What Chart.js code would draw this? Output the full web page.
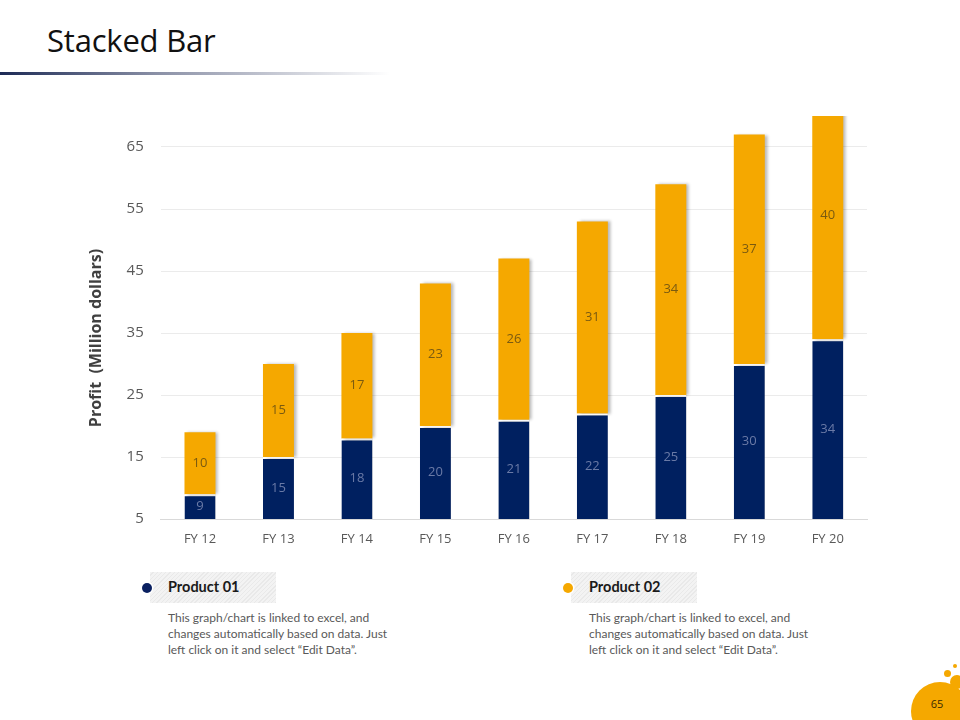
<!DOCTYPE html>
<html>
<head>
<meta charset="utf-8">
<script src="https://cdn.jsdelivr.net/npm/chart.js@4/dist/chart.umd.min.js"></script>
<style>
  html,body{margin:0;padding:0;background:#fff;}
  body{width:960px;height:720px;position:relative;overflow:hidden;font-family:"Open Sans",sans-serif;}
  #title{position:absolute;left:47px;top:19px;font-size:31px;color:#111;font-family:"Open Sans",sans-serif;letter-spacing:-0.2px;}
  #rule{position:absolute;left:0;top:72px;width:390px;height:3px;background:linear-gradient(to right,#1c2a55 0%,#8a90a6 40%,rgba(255,255,255,0) 100%);}
  #chartWrap{position:absolute;left:0;top:0;width:960px;height:560px;}
  .leg{position:absolute;top:572px;width:330px;}
  .legBox{position:absolute;left:0;top:0;width:126px;height:31px;background:repeating-linear-gradient(135deg,#f3f3f3 0px,#f3f3f3 2px,#e9e9e9 2px,#e9e9e9 3px);}
  .dot{position:absolute;left:-8px;top:11px;width:10px;height:10px;border-radius:50%;box-shadow:0 0 0 1.5px #fff;}
  .legName{position:absolute;left:18px;top:6px;font-family:"Lato",sans-serif;font-weight:bold;font-size:14.5px;color:#1a1a1a;}
  .legText{position:absolute;left:18px;top:38px;width:300px;font-family:"Lato",sans-serif;font-size:12px;line-height:16px;color:#595959;white-space:nowrap;}
  #page{position:absolute;left:911px;top:682px;width:58px;height:58px;border-radius:50%;background:#f5a800;}
  #pageNum{position:absolute;left:911px;top:696px;width:52px;text-align:center;font-family:"Open Sans",sans-serif;font-size:11px;color:#3a2a00;}
  .bub{position:absolute;border-radius:50%;background:#f5a800;}
</style>
</head>
<body>
<div id="title">Stacked Bar</div>
<div id="rule"></div>
<div id="chartWrap"><canvas id="c" width="960" height="560"></canvas></div>

<div class="leg" style="left:150px;">
  <div class="legBox"></div>
  <div class="dot" style="background:#0a2060;"></div>
  <div class="legName">Product 01</div>
  <div class="legText">This graph/chart is linked to excel, and<br>changes automatically based on data. Just<br>left click on it and select “Edit Data”.</div>
</div>
<div class="leg" style="left:571px;">
  <div class="legBox"></div>
  <div class="dot" style="background:#f5a800;"></div>
  <div class="legName">Product 02</div>
  <div class="legText">This graph/chart is linked to excel, and<br>changes automatically based on data. Just<br>left click on it and select “Edit Data”.</div>
</div>

<div id="page"></div>
<div id="pageNum">65</div>
<div class="bub" style="left:944px;top:670px;width:7px;height:7px;"></div>
<div class="bub" style="left:953px;top:664px;width:4px;height:4px;"></div>
<div class="bub" style="left:950px;top:675px;width:14px;height:14px;"></div>

<script>
const categories = ["FY 12","FY 13","FY 14","FY 15","FY 16","FY 17","FY 18","FY 19","FY 20"];
const product01 = [9, 15, 18, 20, 21, 22, 25, 30, 34];
const product02 = [10, 15, 17, 23, 26, 31, 34, 37, 40];
const yTicks = [5, 15, 25, 35, 45, 55, 65];
const yMin = 5;
const yMax = 70;

const NAVY = '#002060';
const ORANGE = '#f5a800';

const helper = {
  id: 'helper',
  beforeDatasetsDraw(chart) {
    const ctx = chart.ctx;
    ctx.save();
    ctx.shadowColor = 'rgba(0,0,0,0.28)';
    ctx.shadowOffsetX = 3;
    ctx.shadowOffsetY = 0;
    ctx.shadowBlur = 3;
  },
  afterDatasetsDraw(chart) {
    const ctx = chart.ctx;
    ctx.restore();
    const y = chart.scales.y;
    ctx.save();
    ctx.font = '13px "Open Sans", sans-serif';
    ctx.textAlign = 'center';
    ctx.textBaseline = 'middle';
    chart.data.datasets.forEach((ds, di) => {
      const meta = chart.getDatasetMeta(di);
      meta.data.forEach((el, i) => {
        let start = 0;
        for (let k = 0; k < di; k++) start += chart.data.datasets[k].data[i];
        const end = start + ds.data[i];
        const lo = Math.max(start, yMin);
        const mid = (lo + end) / 2;
        ctx.fillStyle = ds.labelColor;
        ctx.fillText(String(ds.data[i]), el.x, y.getPixelForValue(mid));
      });
    });
    // y axis title
    ctx.translate(96, 338);
    ctx.rotate(-Math.PI / 2);
    ctx.font = 'bold 16px "Open Sans", sans-serif';
    ctx.fillStyle = '#404040';
    ctx.fillText('Profit  (Million dollars)', 0, 0);
    ctx.restore();
  }
};

new Chart(document.getElementById('c'), {
  type: 'bar',
  data: {
    labels: categories,
    datasets: [
      { label: 'Product 01', data: product01, backgroundColor: NAVY, borderColor: '#ffffff',
        borderWidth: {top: 2, left: 0, right: 0, bottom: 0}, borderSkipped: 'bottom', labelColor: '#6a7aa6' },
      { label: 'Product 02', data: product02, backgroundColor: ORANGE, borderWidth: 0, labelColor: '#7a5a10' }
    ]
  },
  options: {
    responsive: false,
    animation: false,
    devicePixelRatio: 1,
    layout: { padding: { left: 80, right: 93, top: 116, bottom: 0 } },
    datasets: { bar: { barPercentage: 0.79, categoryPercentage: 0.5 } },
    plugins: { legend: { display: false }, tooltip: { enabled: false } },
    scales: {
      x: {
        stacked: true,
        grid: { display: false, drawTicks: false },
        border: { display: true, color: '#d9d9d9', width: 1 },
        ticks: { color: '#595959', font: { family: 'Open Sans', size: 13 }, padding: 12 },
        afterFit(s) { s.height = 41; }
      },
      y: {
        stacked: true,
        min: yMin,
        max: yMax,
        afterBuildTicks(s) { s.ticks = yTicks.map(v => ({ value: v })); },
        grid: { color: '#ebebeb', drawTicks: false },
        border: { display: false },
        ticks: { color: '#595959', font: { family: 'Open Sans', size: 15 }, padding: 17 },
        afterFit(s) { s.width = 80.75; }
      }
    }
  },
  plugins: [helper]
});
</script>
</body>
</html>
